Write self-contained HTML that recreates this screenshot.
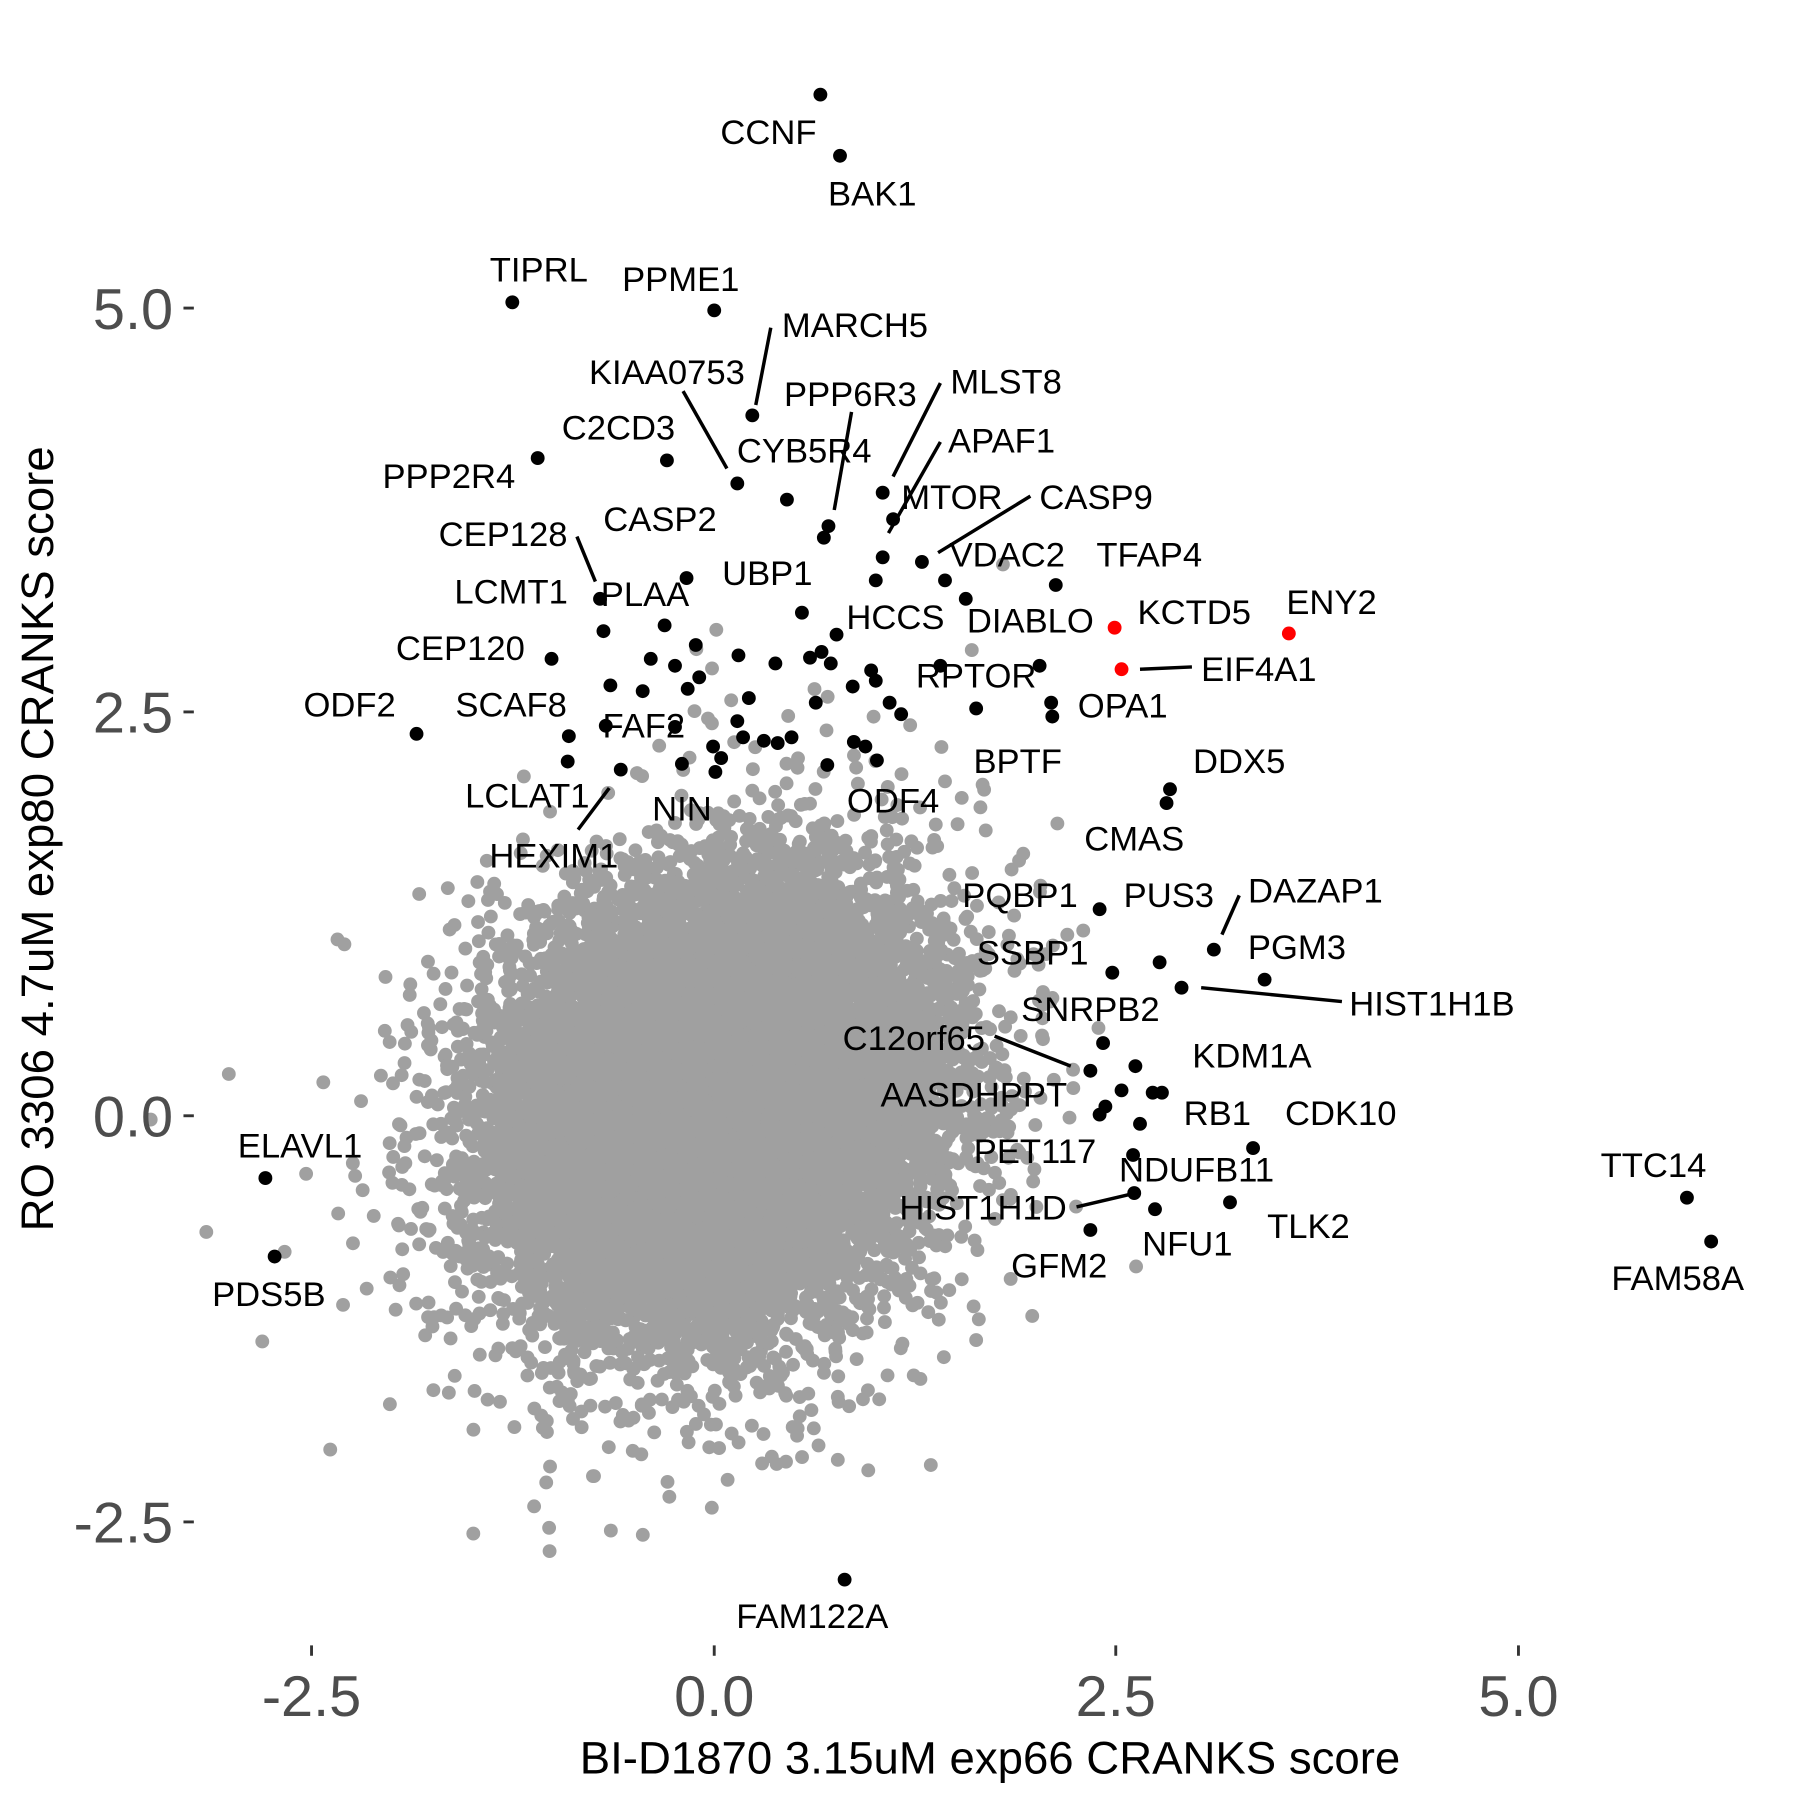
<!DOCTYPE html>
<html><head><meta charset="utf-8"><style>
html,body{margin:0;padding:0;background:#fff}
svg{display:block}
text{font-family:"Liberation Sans",Arial,sans-serif}
.g{font-size:30px;fill:#000;text-anchor:middle}
</style></head><body>
<svg id="s" width="1800" height="1800" viewBox="0 0 1560 1560" xmlns="http://www.w3.org/2000/svg">
<rect width="1560" height="1560" fill="#fff"/>
<g transform="translate(-2,-1)">
<g id="gray" fill="#a0a0a0"></g>
<g id="blk" fill="#000"></g>
<g fill="#ff0000">
<circle cx="968" cy="545" r="6"/><circle cx="1119" cy="550" r="6"/><circle cx="974" cy="581" r="6"/>
</g>
<g stroke="#000" stroke-width="3" fill="none">
<line x1="670" y1="285" x2="657" y2="352"/>
<line x1="594" y1="340" x2="632" y2="407"/>
<line x1="740" y1="358" x2="725" y2="443"/>
<line x1="817" y1="333" x2="776" y2="414"/>
<line x1="817" y1="384" x2="772" y2="463"/>
<line x1="895" y1="431" x2="815" y2="480"/>
<line x1="502" y1="466" x2="518" y2="505"/>
<line x1="990" y1="581" x2="1035" y2="579"/>
<line x1="503" y1="720" x2="530" y2="684"/>
<line x1="1076" y1="777" x2="1061" y2="811"/>
<line x1="1043" y1="857" x2="1165" y2="869"/>
<line x1="864" y1="899" x2="930" y2="925"/>
<line x1="935" y1="1047" x2="982" y2="1036"/>
</g>
<g class="lab">
<text class="g" x="668" y="126">CCNF</text>
<text class="g" x="758" y="179">BAK1</text>
<text class="g" x="469" y="245">TIPRL</text>
<text class="g" x="592" y="253">PPME1</text>
<text class="g" x="743" y="293">MARCH5</text>
<text class="g" x="580" y="334">KIAA0753</text>
<text class="g" x="739" y="353">PPP6R3</text>
<text class="g" x="874" y="342">MLST8</text>
<text class="g" x="870" y="393">APAF1</text>
<text class="g" x="538" y="382">C2CD3</text>
<text class="g" x="391" y="424">PPP2R4</text>
<text class="g" x="699" y="402">CYB5R4</text>
<text class="g" x="827" y="442">MTOR</text>
<text class="g" x="952" y="442">CASP9</text>
<text class="g" x="875" y="492">VDAC2</text>
<text class="g" x="574" y="461">CASP2</text>
<text class="g" x="438" y="474">CEP128</text>
<text class="g" x="998" y="492">TFAP4</text>
<text class="g" x="667" y="508">UBP1</text>
<text class="g" x="778" y="546">HCCS</text>
<text class="g" x="895" y="549">DIABLO</text>
<text class="g" x="1037" y="542">KCTD5</text>
<text class="g" x="1156" y="533">ENY2</text>
<text class="g" x="1093" y="591">EIF4A1</text>
<text class="g" x="445" y="524">LCMT1</text>
<text class="g" x="561" y="526">PLAA</text>
<text class="g" x="401" y="573">CEP120</text>
<text class="g" x="848" y="597">RPTOR</text>
<text class="g" x="975" y="623">OPA1</text>
<text class="g" x="305" y="622">ODF2</text>
<text class="g" x="445" y="622">SCAF8</text>
<text class="g" x="560" y="640">FAF2</text>
<text class="g" x="884" y="671">BPTF</text>
<text class="g" x="1076" y="671">DDX5</text>
<text class="g" x="459" y="701">LCLAT1</text>
<text class="g" x="482" y="753">HEXIM1</text>
<text class="g" x="593" y="712">NIN</text>
<text class="g" x="776" y="705">ODF4</text>
<text class="g" x="985" y="738">CMAS</text>
<text class="g" x="886" y="787">PQBP1</text>
<text class="g" x="1015" y="787">PUS3</text>
<text class="g" x="1142" y="783">DAZAP1</text>
<text class="g" x="1126" y="832">PGM3</text>
<text class="g" x="897" y="837">SSBP1</text>
<text class="g" x="1243" y="881">HIST1H1B</text>
<text class="g" x="947" y="886">SNRPB2</text>
<text class="g" x="794" y="911">C12orf65</text>
<text class="g" x="1087" y="926">KDM1A</text>
<text class="g" x="846" y="960">AASDHPPT</text>
<text class="g" x="1057" y="976">RB1</text>
<text class="g" x="1164" y="976">CDK10</text>
<text class="g" x="899" y="1009">PET117</text>
<text class="g" x="1039" y="1025">NDUFB11</text>
<text class="g" x="854" y="1058">HIST1H1D</text>
<text class="g" x="1031" y="1089">NFU1</text>
<text class="g" x="1136" y="1074">TLK2</text>
<text class="g" x="920" y="1108">GFM2</text>
<text class="g" x="1435" y="1021">TTC14</text>
<text class="g" x="1456" y="1119">FAM58A</text>
<text class="g" x="262" y="1004">ELAVL1</text>
<text class="g" x="235" y="1133">PDS5B</text>
<text class="g" x="706" y="1412">FAM122A</text>
</g>
<g stroke="#333" stroke-width="2.5">
<line x1="161" y1="268" x2="170" y2="268"/>
<line x1="161" y1="618" x2="170" y2="618"/>
<line x1="161" y1="968" x2="170" y2="968"/>
<line x1="161" y1="1320" x2="170" y2="1320"/>
<line x1="272" y1="1427" x2="272" y2="1436"/>
<line x1="621" y1="1427" x2="621" y2="1436"/>
<line x1="969" y1="1427" x2="969" y2="1436"/>
<line x1="1318" y1="1427" x2="1318" y2="1436"/>
</g>
<g font-size="50" fill="#4d4d4d">
<text x="152" y="286" text-anchor="end">5.0</text>
<text x="152" y="636" text-anchor="end">2.5</text>
<text x="152" y="986" text-anchor="end">0.0</text>
<text x="152" y="1338" text-anchor="end">-2.5</text>
<text x="272" y="1488" text-anchor="middle">-2.5</text>
<text x="621" y="1488" text-anchor="middle">0.0</text>
<text x="969" y="1488" text-anchor="middle">2.5</text>
<text x="1318" y="1488" text-anchor="middle">5.0</text>
</g>
<text x="860" y="1538" text-anchor="middle" font-size="39.5" fill="#000">BI-D1870 3.15uM exp66 CRANKS score</text>
<text transform="translate(48,728) rotate(-90)" text-anchor="middle" font-size="39.5" fill="#000">RO 3306 4.7uM exp80 CRANKS score</text>
</g>
</svg>
<script>
(function(){
var s=123456789;function r(){s^=s<<13;s>>>=0;s^=s>>>17;s^=s<<5;s>>>=0;return s/4294967296;}
function n(){var u=r()||1e-9,v=r();return Math.sqrt(-2*Math.log(u))*Math.cos(2*Math.PI*v);}
var h="";
for(var i=0;i<18000;i++){
var sd=(r()<0.08)?0.88:0.64;
var a=n(),b=n();
var x=a*sd, y=0.08+(0.15*a+0.99*b)*sd;
h+='<circle cx="'+(621+x*139.4).toFixed(1)+'" cy="'+(968-y*140.4).toFixed(1)+'" r="6"/>';
}
document.getElementById("gray").innerHTML=h;
var B=[[713,83],[730,136],[446,263],[621,270],[654,361],[641,420],[684,434],[720,457],[716,467],[767,428],[776,451],[767,484],[580,400],[468,398],[801,488],[522,520],[917,508],[697,532],[727,551],[839,520],[761,504],[821,504],[525,548],[480,572],[817,578],[903,578],[913,610],[914,622],[363,637],[1016,685],[1013,697],[540,668],[955,789],[1054,824],[1098,850],[966,844],[1026,857],[1007,835],[958,905],[947,929],[986,925],[974,946],[1001,948],[1009,948],[960,960],[955,967],[990,975],[1088,996],[984,1002],[985,1035],[1003,1049],[1068,1043],[947,1067],[1464,1039],[1485,1077],[232,1022],[240,1090],[734,1370],
[597,502],[578,543],[605,560],[642,569],[674,576],[704,571],[714,566],[722,576],[757,582],[761,591],[741,596],[773,610],[783,620],[709,610],[651,606],[598,598],[587,578],[566,572],[559,600],[531,595],[495,639],[494,661],[527,630],[587,631],[641,626],[646,640],[664,643],[688,640],[676,645],[620,648],[627,658],[622,670],[593,663],[742,644],[752,648],[762,660],[719,664],[608,588],[848,615]];
var k="";B.forEach(function(p){k+='<circle cx="'+p[0]+'" cy="'+p[1]+'" r="6"/>';});
document.getElementById("blk").innerHTML=k;
})();
</script>
</body></html>
